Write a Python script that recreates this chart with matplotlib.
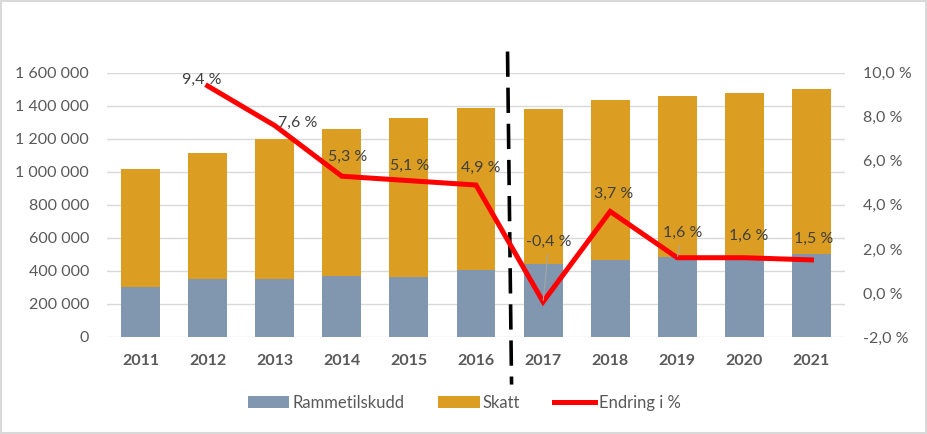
import numpy as np
import matplotlib.pyplot as plt
from matplotlib.patches import Rectangle
import matplotlib.transforms as mtransforms

plt.rcParams['font.family'] = ['Lato', 'DejaVu Sans']

years = ['2011', '2012', '2013', '2014', '2015', '2016', '2017', '2018', '2019', '2020', '2021']
rammetilskudd = [301000, 351000, 351000, 368000, 361000, 404000, 442000, 466000, 482000, 478000, 503000]
totalt = [1018000, 1113000, 1200000, 1258000, 1325000, 1385000, 1379000, 1433000, 1457000, 1475000, 1500000]
skatt = [t - r for t, r in zip(totalt, rammetilskudd)]
endring_aar = ['2012', '2013', '2014', '2015', '2016', '2017', '2018', '2019', '2020', '2021']
endring = [9.4, 7.6, 5.3, 5.1, 4.9, -0.4, 3.7, 1.6, 1.6, 1.5]

# label offsets in pixels (dx, dy) and whether a leader line is drawn
offsets = [(-6, 6), (23, 3), (6, 19), (1, 15), (5, 17), (6, 60), (3, 18), (5, 25), (4, 22), (2, 21)]
leader = [False, False, False, False, False, True, False, True, False, False]

c_ramme = '#8097AF'
c_skatt = '#DB9E22'
c_text = '#595959'
fs = 11.5

fig = plt.figure(figsize=(9.28, 4.34), dpi=100)
ax = fig.add_axes([107/928, 1-337/434, (845-107)/928, (337-72.7)/434])

x = np.arange(len(years))
ax.bar(x, rammetilskudd, 0.58, color=c_ramme, label='Rammetilskudd', zorder=2)
ax.bar(x, skatt, 0.58, bottom=rammetilskudd, color=c_skatt, label='Skatt', zorder=2)
ax.set_xlim(-0.5, len(years) - 0.5)
ax.set_ylim(0, 1600000)
ax.set_yticks(np.arange(0, 1600001, 200000))
ax.set_yticklabels(['{:,}'.format(v).replace(',', ' ') for v in range(0, 1600001, 200000)])
ax.set_xticks(x)
ax.set_xticklabels(years, fontweight='bold')
ax.grid(axis='y', color='#D9D9D9', lw=1, zorder=0)
ax.set_axisbelow(True)
for s in ax.spines.values():
    s.set_visible(False)
ax.tick_params(axis='both', length=0, colors=c_text, labelsize=fs)
ax.tick_params(axis='y', pad=13)
ax.tick_params(axis='x', pad=12)

ax2 = ax.twinx()
xe = [years.index(a) for a in endring_aar]
ax2.plot(xe, endring, color='#FF0000', lw=3.6, solid_joinstyle='miter', label='Endring i %', zorder=5)
ax2.set_ylim(-2, 10)
ax2.set_yticks(np.arange(-2, 10.1, 2))
ax2.set_yticklabels([('%.1f %%' % v).replace('.', ',') for v in np.arange(-2, 10.1, 2)])
for s in ax2.spines.values():
    s.set_visible(False)
ax2.tick_params(axis='y', length=0, colors=c_text, labelsize=fs, pad=13)

for xi, v, (dx, dy), ld in zip(xe, endring, offsets, leader):
    txt = ('%.1f %%' % v).replace('.', ',')
    ap = dict(arrowstyle='-', color='#A6A6A6', lw=0.8, shrinkA=2, shrinkB=1) if ld else None
    ax2.annotate(txt, (xi, v), xytext=(dx * 0.72, dy * 0.72), textcoords='offset points',
                 ha='center', va='center', fontsize=fs, color='#404040', arrowprops=ap, zorder=6)

# dashed divider between 2016 and 2017
trans = mtransforms.blended_transform_factory(ax.transData, ax.transAxes)
ax.plot([5.47, 5.53], [1.08, -0.18], transform=trans, color='black', lw=2.6,
        dashes=(7, 3), clip_on=False, zorder=7)

h1, l1 = ax.get_legend_handles_labels()
h2, l2 = ax2.get_legend_handles_labels()
fig.legend(h1 + h2, l1 + l2, loc='center', bbox_to_anchor=(0.5, 1-403/434), ncol=3,
           frameon=False, fontsize=12, handlelength=2.5, handleheight=0.7,
           columnspacing=2.0, handletextpad=0.2, labelcolor=c_text)

fig.patches.append(Rectangle((0.001, 0.003), 0.997, 0.994, transform=fig.transFigure,
                             fill=False, edgecolor='#D9D9D9', lw=1.5))

fig.savefig('out.png', dpi=100)
